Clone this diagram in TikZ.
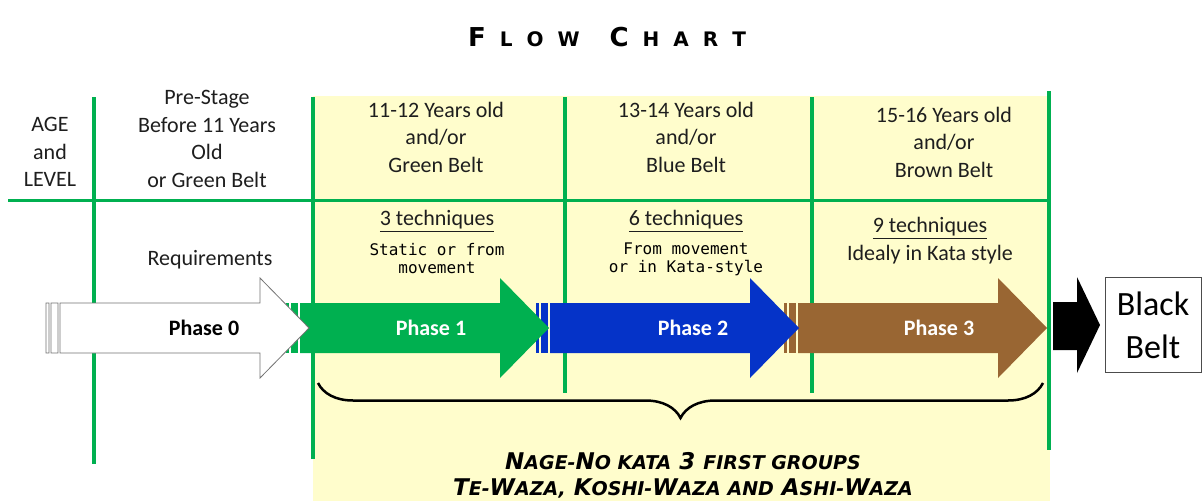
\documentclass[tikz,border=0pt]{standalone}
\usepackage{fontspec}
\setmainfont{Carlito}
\setmonofont{DejaVu Sans Mono}
\newfontfamily\verdfont{DejaVu Sans}
\newcommand\smcap[1]{{\fontsize{19}{19}\selectfont #1}}
\newcommand\ttlsc[1]{{\fontsize{20}{20}\selectfont #1}}
\usetikzlibrary{decorations.pathreplacing,calc}
\definecolor{beltgreen}{HTML}{00B050}
\definecolor{beltblue}{HTML}{0533C8}
\definecolor{beltbrown}{HTML}{996633}
\definecolor{paleyellow}{HTML}{FFFDCC}
\definecolor{inkgray}{HTML}{1E1E1E}
\tikzset{
  gridline/.style={draw=beltgreen, line width=3.5pt},
  cell/.style={align=center, text=inkgray, inner sep=0pt,
    font=\fontsize{22}{27.5}\selectfont},
  note/.style={align=center, text=black, inner sep=0pt,
    font=\ttfamily\fontsize{16}{18}\selectfont},
  phase/.style={inner sep=0pt, font=\bfseries\fontsize{22}{22}\selectfont},
}

\begin{document}
\begin{tikzpicture}[x=1pt,y=-1pt]
\useasboundingbox (0,0) rectangle (1203,501);
\fill[white] (0,0) rectangle (1203,501);
\fill[paleyellow] (313,96) rectangle (1050,501);

% title
\node (title) at (607,37) {\verdfont\bfseries\fontsize{26}{26}\selectfont
  F\kern14pt\ttlsc{L\kern14pt O\kern14pt W}\kern30pt
  C\kern14pt\ttlsc{H\kern14pt A\kern14pt R\kern14pt T}};

% table lines
\draw[gridline] (94,97) -- (94,464);
\draw[gridline] (313,97) -- (313,459);
\draw[gridline] (565,97) -- (565,393);
\draw[gridline] (812,97) -- (812,393);
\draw[gridline] (1049,91) -- (1049,450);
\draw[gridline, line width=3pt] (8,200) -- (1049,200);

% header row
\node[cell] (agelevel) at (50,152) {AGE\\and\\LEVEL};
\node[cell] (prestage) at (207,139) {Pre-Stage\\Before 11 Years\\Old\\or Green Belt};
\node[cell] (age1) at (436,137) {11-12 Years old\\and/or\\Green Belt};
\node[cell] (age2) at (686,137) {13-14 Years old\\and/or\\Blue Belt};
\node[cell] (age3) at (944,142) {15-16 Years old\\and/or\\Brown Belt};

% requirements row
\node[cell] (req) at (210,260) {Requirements};
\node[cell] (tech1) at (437,221) {\underline{3 techniques}};
\node[note] (how1) at (437,259) {Static or from\\movement};
\node[cell] (tech2) at (686,221) {\underline{6 techniques}};
\node[note] (how2) at (686,259) {From movement\\or in Kata-style};
\node[cell] (tech3) at (930,228) {\underline{9 techniques}};
\node[cell] (how3) at (930,255) {Idealy in Kata style};

% phase arrows, right one first so each head lies over the next stripes
\foreach \tail/\col in {798/beltbrown, 550/beltblue, 300/beltgreen}{
  \fill[\col] (\tail-14,303) rectangle (\tail-11,353);
  \fill[\col] (\tail-9,303) rectangle (\tail-2,353);
  \fill[\col] (\tail,303) -- (\tail+200,303) -- (\tail+200,278)
    -- (\tail+249,328) -- (\tail+200,378) -- (\tail+200,353)
    -- (\tail,353) -- cycle;
}
\filldraw[fill=white, draw=black!55, line width=0.8pt]
  (46,303) rectangle (49,353) (51,303) rectangle (58,353)
  (60,303) -- (260,303) -- (260,278) -- (309,328) -- (260,378)
  -- (260,353) -- (60,353) -- cycle;
\fill[black] (1053,302) -- (1077,302) -- (1077,277) -- (1100,325)
  -- (1077,373) -- (1077,350) -- (1053,350) -- cycle;

\node[phase] (ph0) at (204,328) {Phase 0};
\node[phase, text=white] (ph1) at (431,328) {Phase 1};
\node[phase, text=white] (ph2) at (693,328) {Phase 2};
\node[phase, text=white] (ph3) at (939,328) {Phase 3};

\node[draw=black!70, line width=0.8pt, minimum width=96pt, minimum height=95pt,
  align=center, font=\fontsize{34}{43}\selectfont] (blackbelt) at (1153,325) {Black\\Belt};

% brace over the kata groups
\coordinate (braceL) at (318,383);
\coordinate (braceR) at (1043,383);
\draw[line width=2.5pt, decorate, decoration={brace, mirror, amplitude=35pt}]
  (braceL) -- (braceR);
\node[align=center, inner sep=0pt,
  font=\verdfont\bfseries\itshape\fontsize{23}{26}\selectfont] (kata) at (683,475)
  {N\smcap{AGE-}N\smcap{O KATA} 3 \smcap{FIRST GROUPS}\\
   T\smcap{E-}W\smcap{AZA,} K\smcap{OSHI-}W\smcap{AZA AND} A\smcap{SHI-}W\smcap{AZA}};
\end{tikzpicture}
\end{document}
